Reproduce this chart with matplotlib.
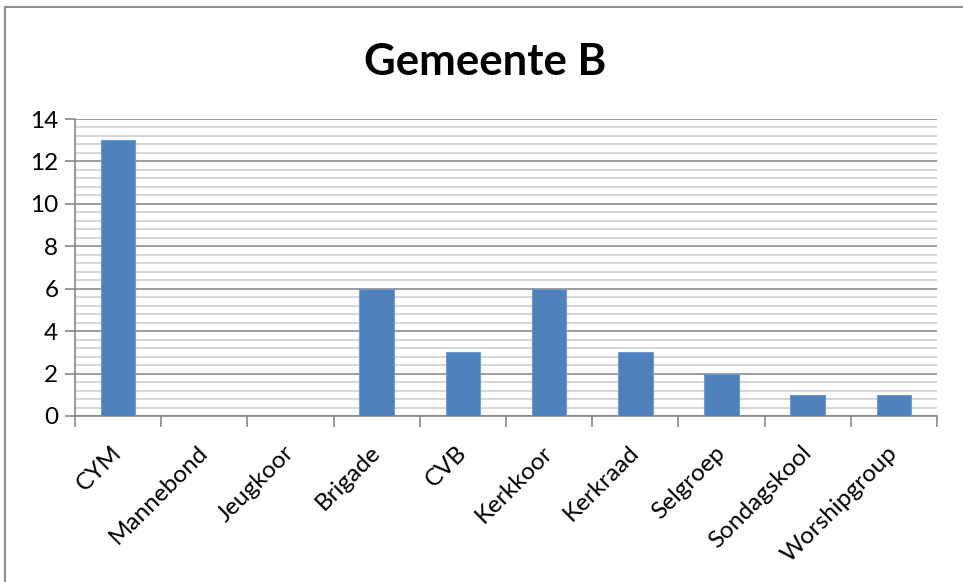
import numpy as np
import matplotlib
matplotlib.use("Agg")
import matplotlib.pyplot as plt
from matplotlib.lines import Line2D
from matplotlib.ticker import MultipleLocator

categories = ["CYM", "Mannebond", "Jeugkoor", "Brigade", "CVB", "Kerkkoor",
              "Kerkraad", "Selgroep", "Sondagskool", "Worshipgroup"]
values = [13, 0, 0, 6, 3, 6, 3, 2, 1, 1]
title = "Gemeente B"

plt.rcParams['font.family'] = ['Lato', 'DejaVu Sans']

W, H = 963, 582
fig = plt.figure(figsize=(W / 100, H / 100), dpi=100)
ax = fig.add_axes([75 / W, 1 - 416 / H, (937 - 75) / W, (416 - 119) / H])

x = np.arange(len(categories))
ax.bar(x, values, width=0.4, color="#4f81bd", edgecolor="#6f9bd0",
       linewidth=0.8, zorder=3)

ax.set_xlim(-0.5, len(categories) - 0.5)
ax.set_ylim(0, 14)
ax.yaxis.set_major_locator(MultipleLocator(2))
ax.yaxis.set_minor_locator(MultipleLocator(0.4))
ax.grid(which="major", axis="y", color="#8c8c8c", linewidth=1.2, zorder=1)
ax.grid(which="minor", axis="y", color="#cfcfcf", linewidth=1.2, zorder=0)
ax.tick_params(axis="y", which="minor", length=0)
ax.tick_params(axis="y", which="major", length=7, width=1.2, color="#868686",
               labelsize=17.5, pad=5)

ax.set_xticks(np.arange(len(categories) + 1) - 0.5, minor=False)
ax.set_xticklabels([])
ax.set_xticks(x, minor=True)
ax.set_xticklabels(categories, minor=True, rotation=45, ha="right",
                   va="center", rotation_mode="anchor", fontsize=17.5)
ax.tick_params(axis="x", which="major", length=8, width=1.2, color="#868686")
ax.tick_params(axis="x", which="minor", length=0, pad=24)

for side in ["top", "right"]:
    ax.spines[side].set_visible(False)
for side in ["left", "bottom"]:
    ax.spines[side].set_color("#868686")
    ax.spines[side].set_linewidth(1.2)

fig.text(485 / W, 1 - 62 / H, title, ha="center", va="center",
         fontsize=31.5, fontweight="bold")

# chart frame
fig.add_artist(Line2D([5 / W, 5 / W], [0, 1 - 7 / H], color="#8c8c8c",
                      linewidth=1.5, transform=fig.transFigure))
fig.add_artist(Line2D([5 / W, 1], [1 - 7 / H, 1 - 7 / H], color="#8c8c8c",
                      linewidth=1.5, transform=fig.transFigure))

fig.savefig("out.png", dpi=100)
